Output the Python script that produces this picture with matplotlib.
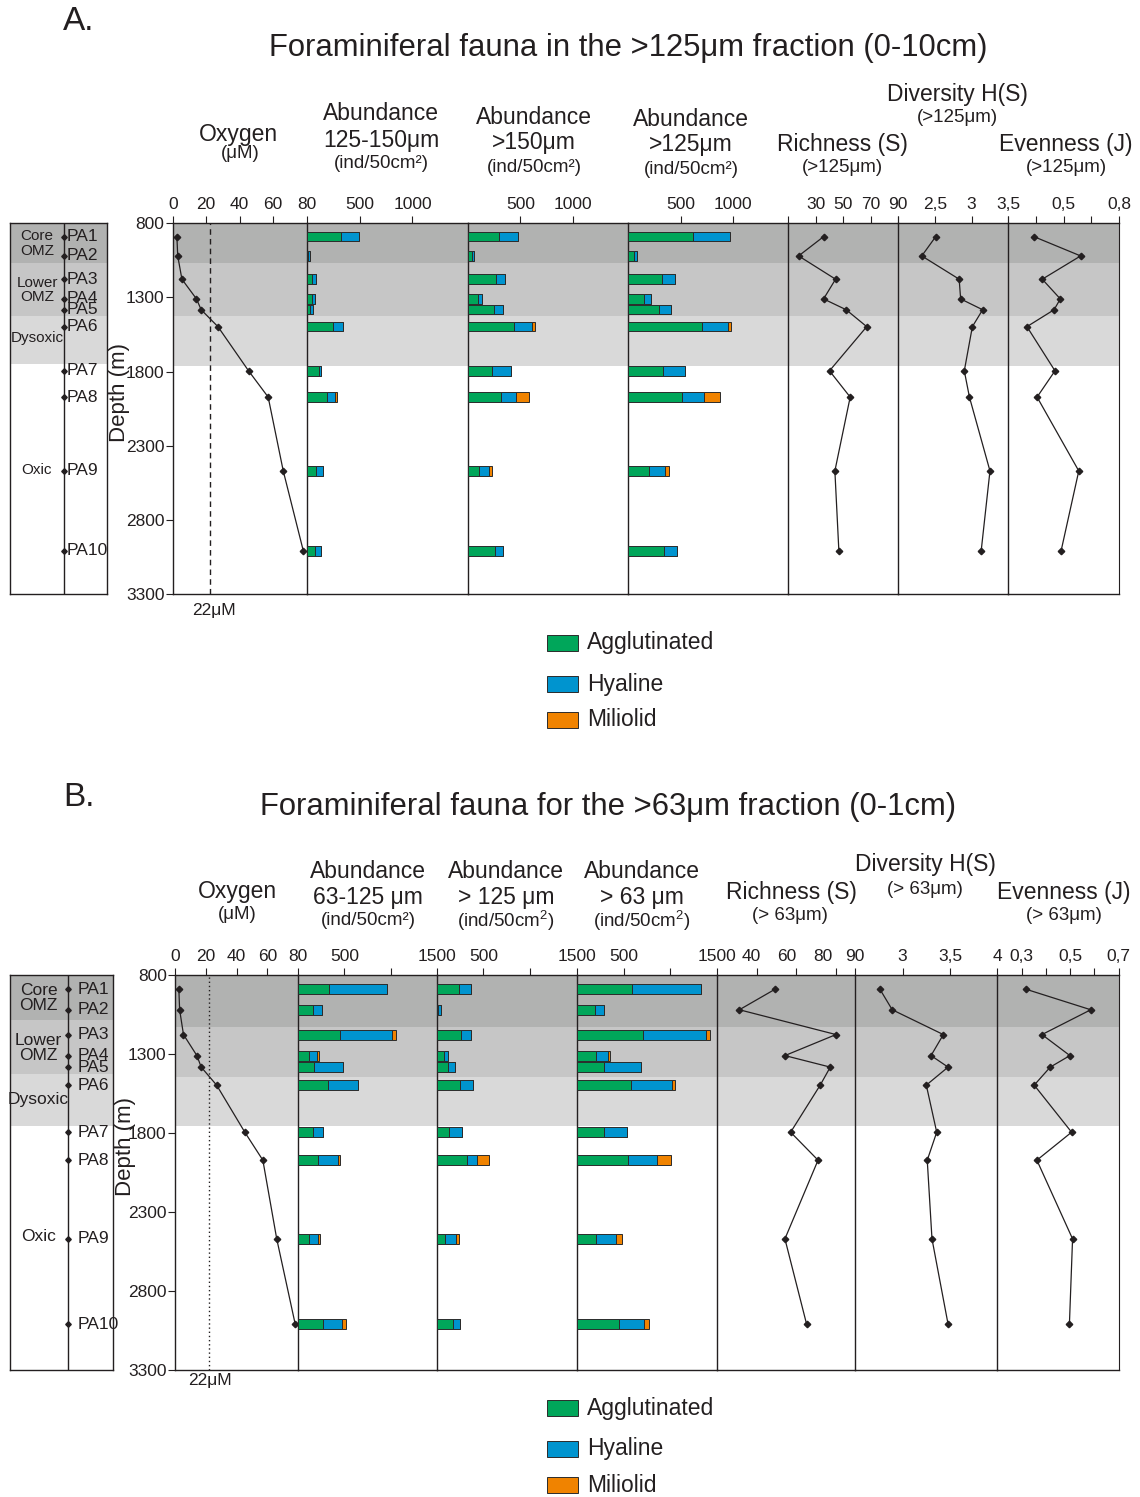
import matplotlib
matplotlib.use("Agg")
import matplotlib.pyplot as plt
import matplotlib.transforms as mtransforms
from matplotlib.patches import Rectangle

plt.rcParams["font.family"] = ["Liberation Sans", "DejaVu Sans"]
plt.rcParams["mathtext.fontset"] = "custom"
plt.rcParams["mathtext.rm"] = "Liberation Sans"

W, H = 1140, 1497
INK = "#231f20"
GREEN = "#00a65a"
BLUE = "#0094cf"
ORANGE = "#f08300"
ZONE_COLORS = ["#b1b2b1", "#c6c6c6", "#d9d9d9"]

# ---- data ----
stations = ["PA1", "PA2", "PA3", "PA4", "PA5", "PA6", "PA7", "PA8", "PA9", "PA10"]
depth = [890, 1020, 1177, 1310, 1383, 1497, 1795, 1972, 2470, 3010]
oxygen = [2.5, 3.0, 5.5, 14.2, 17.0, 27.0, 45.3, 57.0, 66.0, 78.0]
zone_names = ["Core\nOMZ", "Lower\nOMZ", "Dysoxic", "Oxic"]

# A: >125 um fraction, 0-10 cm
agg_a1 = [323, 8, 54, 54, 32, 253, 114, 196, 92, 82]
hya_a1 = [171, 20, 35, 22, 31, 89, 19, 67, 66, 57]
mil_a1 = [0, 0, 0, 0, 0, 0, 0, 25, 0, 0]
agg_a2 = [295, 43, 270, 98, 249, 442, 227, 319, 110, 264]
hya_a2 = [184, 18, 89, 43, 89, 166, 184, 141, 93, 70]
mil_a2 = [0, 0, 0, 0, 0, 27, 0, 117, 33, 0]
agg_a3 = [618, 53, 324, 150, 290, 699, 334, 512, 200, 340]
hya_a3 = [352, 31, 125, 62, 112, 246, 209, 212, 153, 125]
mil_a3 = [0, 0, 0, 0, 0, 28, 0, 146, 37, 0]
rich_a = [35.8, 17.7, 44.5, 35.8, 52.2, 67.1, 40.1, 55.1, 44.0, 46.9]
div_a = [2.51, 2.32, 2.83, 2.85, 3.15, 3.01, 2.90, 2.97, 3.25, 3.13]
even_a = [0.339, 0.592, 0.384, 0.482, 0.448, 0.301, 0.453, 0.356, 0.582, 0.486]

# B: >63 um fraction, 0-1 cm
agg_b1 = [337, 163, 453, 116, 167, 326, 156, 217, 116, 272]
hya_b1 = [623, 91, 565, 91, 319, 326, 112, 211, 94, 206]
mil_b1 = [0, 0, 40, 21, 0, 0, 0, 21, 22, 44]
agg_b2 = [243, 12, 264, 82, 125, 254, 136, 329, 93, 175]
hya_b2 = [128, 34, 107, 43, 75, 139, 135, 103, 118, 79]
mil_b2 = [0, 0, 0, 0, 0, 0, 0, 129, 32, 0]
agg_b3 = [589, 191, 709, 209, 294, 578, 287, 543, 209, 447]
hya_b3 = [737, 103, 674, 128, 394, 443, 245, 319, 213, 276]
mil_b3 = [0, 0, 42, 21, 0, 29, 0, 148, 57, 50]
rich_b = [49.3, 31.2, 80.2, 54.3, 77.3, 72.2, 57.2, 71.1, 54.3, 65.3]
div_b = [2.76, 2.89, 3.43, 3.30, 3.48, 3.25, 3.36, 3.26, 3.31, 3.48]
even_b = [0.318, 0.585, 0.384, 0.499, 0.418, 0.352, 0.506, 0.363, 0.510, 0.497]

fig = plt.figure(figsize=(W / 100, H / 100), dpi=100)


def add_ax(x0, x1, y0, y1):
    return fig.add_axes([x0 / W, 1 - y1 / H, (x1 - x0) / W, (y1 - y0) / H])


def ftext(x, y, s, size, **kw):
    kw.setdefault("ha", "center")
    kw.setdefault("va", "center")
    fig.text(x / W, 1 - y / H, s, fontsize=size, color=INK, **kw)


def shade(ax, bounds):
    for (d0, d1), c in zip(bounds, ZONE_COLORS):
        ax.axhspan(d0, d1, color=c, lw=0, zorder=0)


def panel(ax, xlim, ticks, labels, pad, right=False):
    ax.set_xlim(*xlim)
    ax.set_ylim(3300, 800)
    ax.set_facecolor("none")
    ax.xaxis.set_ticks_position("top")
    ax.set_xticks(ticks)
    ax.set_xticklabels(labels)
    ax.tick_params(axis="x", direction="out", length=5, width=0.8,
                   labelsize=12.5, pad=pad, colors=INK)
    ax.set_yticks([])
    for side in ["top", "bottom", "left"]:
        ax.spines[side].set_color(INK)
        ax.spines[side].set_linewidth(1.0)
    ax.spines["right"].set_visible(right)
    ax.spines["right"].set_color(INK)


def stacked(ax, agg, hya, mil):
    kw = dict(height=64, edgecolor="#2b2b2b", linewidth=0.7, zorder=3)
    left2 = [a + h for a, h in zip(agg, hya)]
    ax.barh(depth, agg, color=GREEN, **kw)
    ax.barh(depth, hya, left=agg, color=BLUE, **kw)
    ax.barh(depth, mil, left=left2, color=ORANGE, **kw)


def profile(ax, values):
    ax.plot(values, depth, color=INK, lw=0.9, marker="D", ms=3.3,
            zorder=4, clip_on=False)


def block(cfg):
    top, bot = cfg["top"], cfg["bottom"]
    pad = cfg["pad"]

    # station / zone column
    c0, c1 = cfg["col"]
    axc = add_ax(c0, c1, top, bot)
    axc.set_xlim(0, 1)
    axc.set_ylim(3300, 800)
    shade(axc, cfg["col_zones"])
    inner = (cfg["inner"] - c0) / (c1 - c0)
    axc.axvline(inner, color=INK, lw=1.0)
    axc.plot([inner] * len(depth), depth, "D", color=INK, ms=2.8, zorder=4)
    lab_x = (cfg["lab_x"] - c0) / (c1 - c0)
    for s, d in zip(stations, depth):
        axc.text(lab_x, d, s, fontsize=12.5, color=INK, va="center", ha="left",
                 clip_on=False)
    zx = (cfg["zone_x"] - c0) / (c1 - c0)
    for name, d in zip(zone_names, cfg["zone_y"]):
        axc.text(zx, d, name, fontsize=cfg["zone_fs"], color=INK, ha="center",
                 va="center", linespacing=1.05)
    axc.set_xticks([])
    axc.set_yticks([])
    for sp in axc.spines.values():
        sp.set_color(INK)
        sp.set_linewidth(1.0)

    # oxygen
    o0, o1 = cfg["ox"]
    axo = add_ax(o0, o1, top, bot)
    shade(axo, cfg["zones"])
    panel(axo, (0, 80), [0, 20, 40, 60, 80], ["0", "20", "40", "60", "80"], pad)
    axo.set_yticks(range(800, 3301, 500))
    axo.tick_params(axis="y", direction="out", length=5, width=0.8,
                    labelsize=12.5, pad=1, colors=INK)
    axo.axvline(22, color=INK, lw=1.0, ls=cfg["o2_ls"], zorder=2)
    profile(axo, oxygen)

    # abundances
    for (a0, a1), (agg, hya, mil) in zip(cfg["ab"], cfg["ab_data"]):
        ax = add_ax(a0, a1, top, bot)
        shade(ax, cfg["zones"])
        panel(ax, (0, cfg["ab_max"]), cfg["ab_ticks"], cfg["ab_labels"], pad)
        stacked(ax, agg, hya, mil)

    # richness, diversity, evenness
    for key in ["rich", "div", "even"]:
        x0, x1 = cfg[key]
        ax = add_ax(x0, x1, top, bot)
        shade(ax, cfg["zones"])
        lim, ticks, labels = cfg[key + "_axis"]
        panel(ax, lim, ticks, labels, pad, right=(key == "even"))
        profile(ax, cfg[key + "_data"])
        shifts = cfg.get(key + "_shift")
        if shifts:
            for lab, dx in zip(ax.get_xticklabels(), shifts):
                off = mtransforms.ScaledTranslation(dx / 100, 0, fig.dpi_scale_trans)
                lab.set_transform(lab.get_transform() + off)


cfg_a = dict(
    top=223.3, bottom=594, pad=3,
    col=(10, 107), inner=64, lab_x=67, zone_x=37, zone_fs=11,
    zone_y=[937, 1250, 1574, 2465],
    col_zones=[(800, 1070), (1070, 1423), (1423, 1752)],
    zones=[(800, 1070), (1070, 1423), (1423, 1760)],
    ox=(172.7, 306.7), o2_ls=(0, (4, 3)),
    ab=[(306.7, 467.5), (467.5, 628.3), (628.3, 788)],
    ab_max=1520, ab_ticks=[500, 1000], ab_labels=["500", "1000"],
    ab_data=[(agg_a1, hya_a1, mil_a1), (agg_a2, hya_a2, mil_a2),
             (agg_a3, hya_a3, mil_a3)],
    rich=(788, 898.3), div=(898.3, 1008.3), even=(1008.3, 1119),
    rich_axis=((10, 90), [10, 30, 50, 70, 90], ["", "30", "50", "70", "90"]),
    div_axis=((2.0, 3.5), [2.0, 2.5, 3.0, 3.5], ["", "2,5", "3", "3,5"]),
    even_axis=((0.2, 0.8), [0.2, 0.35, 0.5, 0.65, 0.8], ["", "", "0,5", "", "0,8"]),
    rich_data=rich_a, div_data=div_a, even_data=even_a,
)

cfg_b = dict(
    top=975, bottom=1370, pad=3,
    col=(10, 113.3), inner=68.3, lab_x=78, zone_x=38.5, zone_fs=12.5,
    zone_y=[946, 1262, 1590, 2458],
    col_zones=[(800, 1085), (1085, 1427), (1427, 1754)],
    zones=[(800, 1129), (1129, 1448), (1448, 1754)],
    ox=(175, 298.3), o2_ls=(0, (1, 2)),
    ab=[(298.3, 436.7), (436.7, 576.7), (576.7, 717.3)],
    ab_max=1500, ab_ticks=[500, 1000, 1500], ab_labels=["500", "", "1500"],
    ab_data=[(agg_b1, hya_b1, mil_b1), (agg_b2, hya_b2, mil_b2),
             (agg_b3, hya_b3, mil_b3)],
    rich=(717.3, 855.3), div=(855.3, 997.3), even=(997.3, 1118.7),
    rich_axis=((20, 90), [40, 60, 80, 90], ["40", "60", "80", "90"]),
    rich_shift=[-5, -9, -13, 0],
    div_axis=((2.5, 4.0), [3.0, 3.5, 4.0], ["3", "3,5", "4"]),
    even_axis=((0.2, 0.7), [0.3, 0.4, 0.5, 0.6, 0.7], ["0,3", "", "0,5", "", "0,7"]),
    rich_data=rich_b, div_data=div_b, even_data=even_b,
)

block(cfg_a)
block(cfg_b)

# ---- texts ----
ftext(79, 22, "A.", 24)
ftext(628, 48, "Foraminiferal fauna in the >125\u03bcm fraction (0-10cm)", 22.3)
ftext(120, 393, "Depth (m)", 16, rotation=90)
ftext(214, 610, "22\u03bcM", 12.5)
ftext(238, 134, "Oxygen", 16.5)
ftext(240, 154, "(\u03bcM)", 13.5)
for x, y, s in [(381, 114, "125-150\u03bcm"), (534, 117, ">150\u03bcm"), (691, 119, ">125\u03bcm")]:
    ftext(x, y, "Abundance", 16.5)
    ftext(x, y + 26, s, 16.5)
    ftext(x, y + 50, "(ind/50cm\u00b2)", 13.5)
ftext(842, 144, "Richness (S)", 16.5)
ftext(842, 167, "(>125\u03bcm)", 13.5)
ftext(957, 95, "Diversity H(S)", 16.5)
ftext(957, 118, "(>125\u03bcm)", 13.5)
ftext(1066, 144, "Evenness (J)", 16.5)
ftext(1066, 167, "(>125\u03bcm)", 13.5)

ftext(79, 797, "B.", 24)
ftext(608, 807, "Foraminiferal fauna for the >63\u03bcm fraction (0-1cm)", 22.3)
ftext(125, 1147, "Depth (m)", 16, rotation=90)
ftext(210, 1381, "22\u03bcM", 12.5)
ftext(237, 891, "Oxygen", 16.5)
ftext(237, 915, "(\u03bcM)", 13.5)
for x, s, u in [(368, "63-125 \u03bcm", "(ind/50cm\u00b2)"),
                (506, "> 125 \u03bcm", "(ind/50cm$^2$)"),
                (642, "> 63 \u03bcm", "(ind/50cm$^2$)")]:
    ftext(x, 872, "Abundance", 16.5)
    ftext(x, 897, s, 16.5)
    ftext(x, 921, u, 13.5)
ftext(791, 893, "Richness (S)", 16.5)
ftext(790, 916, "(> 63\u03bcm)", 13.5)
ftext(925, 865, "Diversity H(S)", 16.5)
ftext(925, 889, "(> 63\u03bcm)", 13.5)
ftext(1064, 893, "Evenness (J)", 16.5)
ftext(1064, 916, "(> 63\u03bcm)", 13.5)

# ---- legends ----
legend_items = [("Agglutinated", GREEN), ("Hyaline", BLUE), ("Miliolid", ORANGE)]
for ys in ([643, 684, 720], [1408, 1449, 1485]):
    for (name, col), y in zip(legend_items, ys):
        fig.add_artist(Rectangle((547 / W, 1 - (y + 8) / H), 31 / W, 16 / H,
                                 transform=fig.transFigure, facecolor=col,
                                 edgecolor="#2b2b2b", lw=0.7))
        ftext(587, y, name, 16.5, ha="left")

fig.savefig("out.png", dpi=100)
